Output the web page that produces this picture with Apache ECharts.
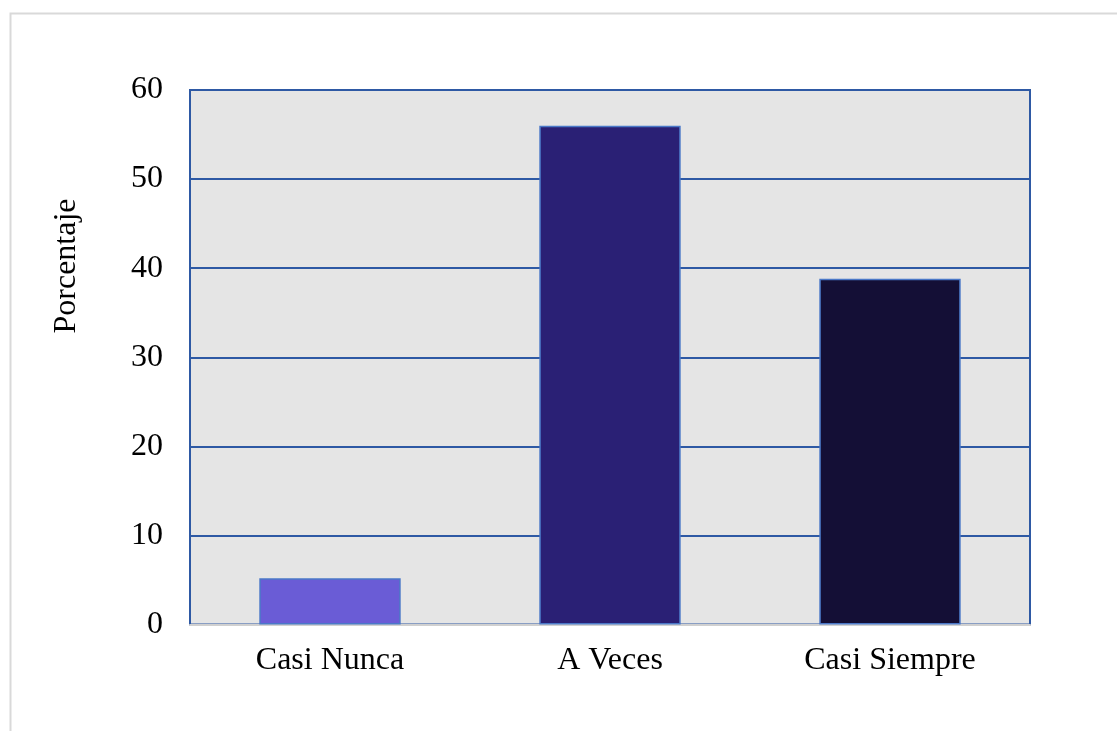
<!DOCTYPE html>
<html>
<head>
<meta charset="utf-8">
<script src="https://cdn.jsdelivr.net/npm/echarts@6/dist/echarts.min.js"></script>
<style>
html,body{margin:0;padding:0;background:#fff;}
#chart{width:1117px;height:731px;}
</style>
</head>
<body>
<div id="chart"></div>
<script>
// Frequency responses, in percent
const categories = ['Casi Nunca', 'A Veces', 'Casi Siempre'];
const values = [5.2, 56, 38.8];
const barColors = ['#6A5CD6', '#2A2075', '#140F36'];
const axisTitle = 'Porcentaje';

const chart = echarts.init(document.getElementById('chart'), null, {renderer: 'canvas'});
const font = '"Liberation Serif", "Times New Roman", serif';
const fontSize = 32;

chart.setOption({
  animation: false,
  backgroundColor: '#ffffff',
  textStyle: {fontFamily: font},
  graphic: [
    {
      type: 'rect',
      shape: {x: 10.5, y: 13.5, width: 1200, height: 800},
      style: {fill: null, stroke: '#d9d9d9', lineWidth: 2},
      silent: true,
      z: -10
    },
    {
      type: 'text',
      x: 51,
      y: 266,
      rotation: Math.PI / 2,
      style: {
        text: axisTitle,
        font: fontSize + 'px ' + font,
        fill: '#000',
        align: 'center',
        verticalAlign: 'top'
      }
    }
  ],
  grid: {
    left: 190, right: 87, top: 90, bottom: 106.5,
    show: true,
    backgroundColor: '#E5E5E5',
    borderColor: '#2E59A4',
    borderWidth: 2
  },
  xAxis: {
    type: 'category',
    data: categories,
    axisLine: {show: true, lineStyle: {color: '#d0d0d0', width: 2}},
    axisTick: {show: false},
    axisLabel: {color: '#000', fontSize: fontSize, fontFamily: font, margin: 20}
  },
  yAxis: {
    type: 'value',
    min: 0, max: 60, interval: 10,
    axisLine: {show: false},
    axisTick: {show: false},
    axisLabel: {color: '#000', fontSize: fontSize, fontFamily: font, margin: 27},
    splitLine: {show: true, lineStyle: {color: '#2E59A4', width: 2}}
  },
  series: [{
    type: 'bar',
    barWidth: '50.5%',
    data: values.map((v, i) => ({
      value: v,
      itemStyle: {color: barColors[i], borderColor: '#4A78C8', borderWidth: 1.5}
    }))
  }]
});
</script>
</body>
</html>
